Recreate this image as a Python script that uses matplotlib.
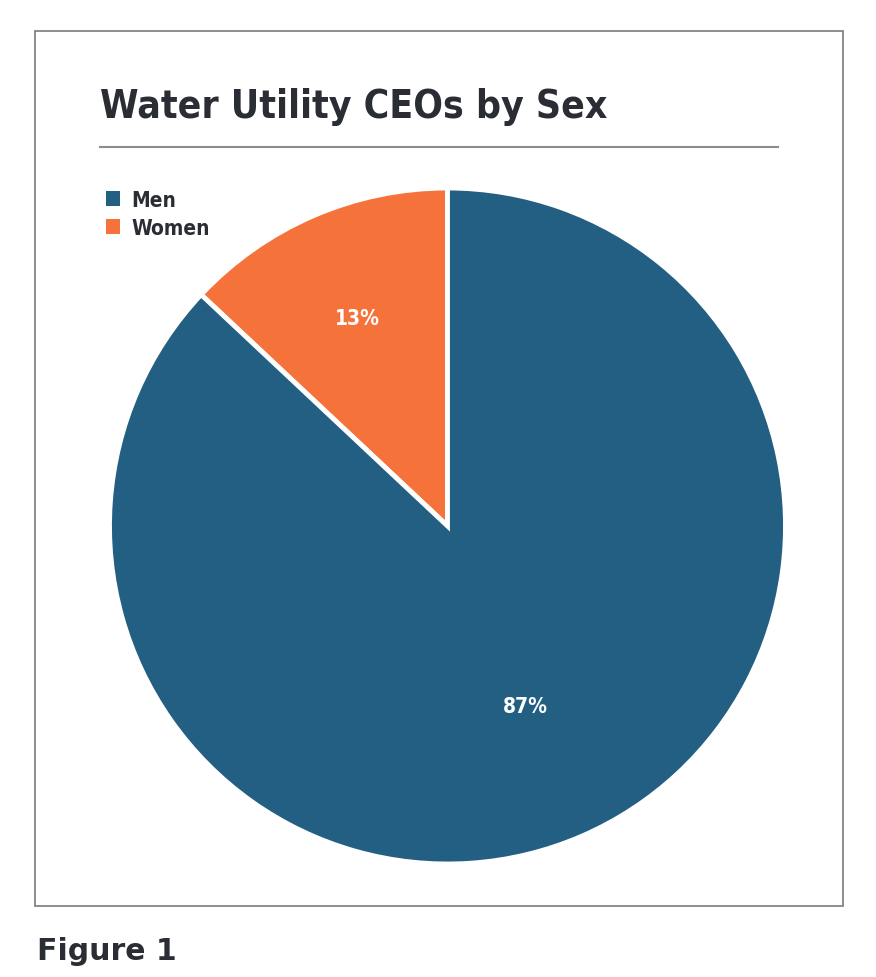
import matplotlib
matplotlib.use("Agg")
import matplotlib.pyplot as plt
import numpy as np

categories = ["Women", "Men"]
values = [13, 87]
colors = ["#f5733b", "#235f82"]
legend_order = ["Men", "Women"]
title = "Water Utility CEOs by Sex"
caption = "Figure 1"

fam = ["DejaVu Sans"]
dark = "#2b2d35"

W, H = 876, 978
fig = plt.figure(figsize=(W / 100, H / 100), dpi=100)

def fx(x): return x / W
def fy(y): return 1 - y / H

fig.add_artist(plt.Rectangle((fx(35), fy(907)), fx(843) - fx(35), fy(32) - fy(907),
                             transform=fig.transFigure, fill=False, edgecolor="#7a7a7a", lw=1.2))
fig.text(fx(100), fy(118), title, family=fam, weight="bold", fontsize=28, color=dark,
         va="baseline", fontstretch="condensed")
fig.add_artist(plt.Line2D([fx(100), fx(778)], [fy(148), fy(148)], transform=fig.transFigure,
                          color="#8c8c8c", lw=1.5))

cx, cy, r = 447.5, 527, 338
ax = fig.add_axes([fx(cx - r), fy(cy + r), 2 * r / W, 2 * r / H])
wedges, _ = ax.pie(values, colors=colors, startangle=90, counterclock=True,
                   wedgeprops=dict(edgecolor="white", linewidth=3.5))
ax.set_xlim(-1, 1); ax.set_ylim(-1, 1)
ax.set_aspect("equal")
ax.axis("off")

label_dist = [0.67, 0.58]
for w, v, d in zip(wedges, values, label_dist):
    ang = np.deg2rad((w.theta1 + w.theta2) / 2)
    ax.text(d * np.cos(ang), d * np.sin(ang), f"{v}%", ha="center", va="center",
            color="white", family=fam, weight="bold", fontsize=15, fontstretch="condensed")

handles = [wedges[categories.index(n)] for n in legend_order]
leg = fig.legend(handles, legend_order, loc="upper left", bbox_to_anchor=(fx(91), fy(176)),
                 frameon=False, prop=dict(family=fam, weight="bold", size=15, stretch="condensed"),
                 handlelength=0.7, handleheight=0.7, handletextpad=0.55, labelspacing=0.4,
                 borderpad=0.2)
for t in leg.get_texts():
    t.set_color(dark)
for h in leg.legend_handles:
    h.set_edgecolor("none")

fig.text(fx(37), fy(960), caption, family=fam, weight="bold", fontsize=21.5, color=dark, va="baseline")

fig.savefig("out.png", dpi=100, facecolor="white")
